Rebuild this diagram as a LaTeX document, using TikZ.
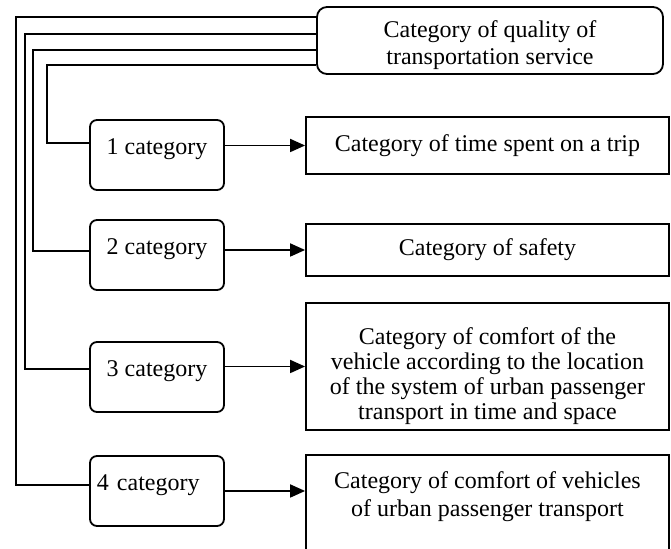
\documentclass[tikz,border=0pt]{standalone}
\usepackage{fontspec}
\setmainfont{Liberation Serif}
\usetikzlibrary{arrows.meta}

\tikzset{
	topbox/.style={draw, line width=0.9pt, rounded corners=5pt,
		minimum width=173pt, minimum height=33.5pt},
	catbox/.style={draw, line width=0.9pt, rounded corners=3.5pt,
		minimum width=67pt, minimum height=35pt, text height=7pt, text depth=7pt,
		font=\fontsize{12}{13.5}\selectfont},
	rbox/.style={draw, line width=0.9pt, align=center, minimum width=181.5pt,
		font=\fontsize{12}{13.5}\selectfont},
	ltext/.style={align=center, font=\fontsize{12}{12.5}\selectfont},
	link/.style={line width=0.9pt},
	arr/.style={line width=0.9pt, -{Triangle[length=7.5pt,width=6.5pt]}}
}

\begin{document}
\begin{tikzpicture}[x=0.5pt, y=-0.5pt]
		\useasboundingbox (0,0) rectangle (671,549);
		% Main shape
		\node[topbox, label={[ltext, font=\fontsize{12}{13.5}\selectfont, yshift=-2.5pt]center:Category of quality of\\transportation service}] (top) at (490,40.5) {};
		% Categories
		\node[catbox] (cat1) at (157,155) {1 category};
		\node[catbox] (cat2) at (157,255) {2 category};
		\node[catbox] (cat3) at (157,377) {3 category};
		\node[catbox, text width=60pt, inner xsep=3.5pt, align=left] (cat4) at (157,491) {4 category};
		% Right boxes
		\node[rbox, minimum height=28.5pt] (r1) at (487.5,145.5) {Category of time spent on a trip};
		\node[rbox, minimum height=26pt] (r2) at (487.5,250) {Category of safety};
		\node[rbox, minimum height=63.5pt, label={[ltext, yshift=-5pt]center:Category of comfort of the\\vehicle according to the location\\of the system of urban passenger\\transport in time and space}] (r3) at (487.5,366.5) {};
		\node[rbox, minimum height=52.5pt, label={[ltext, font=\fontsize{12}{14}\selectfont, yshift=5.5pt]center:Category of comfort of vehicles\\of urban passenger transport}] (r4) at (487.5,507.5) {};
		% Lines from the main shape
		\foreach \k/\x/\ya/\yb in {4/16/17/485, 3/25/34/369, 2/33/50/251, 1/47/65/143}
			\draw[link] (top.west |- 0,\ya) -- (\x,\ya) |- (cat\k.west |- 0,\yb);
		% Arrows
		\foreach \k in {1,2,3}
			\draw[arr] (cat\k.east |- r\k.west) -- (r\k.west);
		\draw[arr] (cat4.east) -- (cat4.east -| r4.west);
	\end{tikzpicture}
\end{document}
